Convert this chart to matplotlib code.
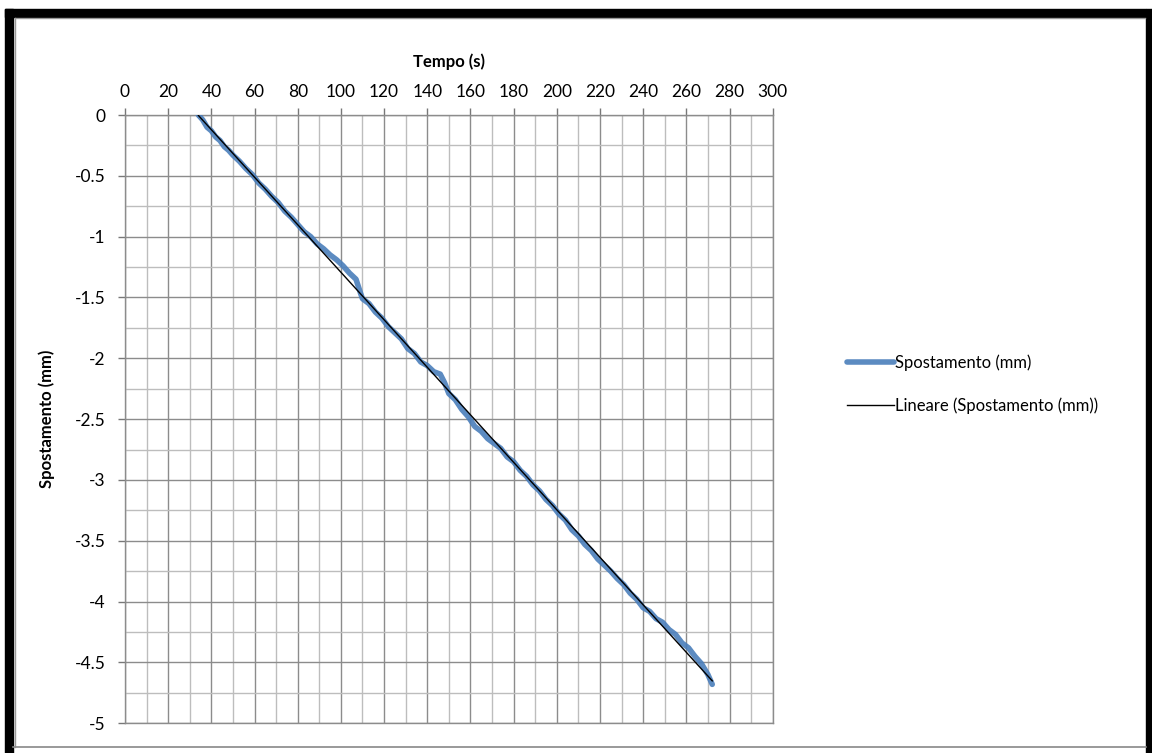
import matplotlib
matplotlib.use('Agg')
import matplotlib.pyplot as plt
from matplotlib.patches import Rectangle
from matplotlib.lines import Line2D
import numpy as np

plt.rcParams['font.family'] = ['Lato', 'DejaVu Sans']

# time (s) and displacement (mm)
tempo = [34, 36, 38, 40, 42, 44, 46, 48, 50, 53, 56, 59, 62, 65, 68, 71, 74, 77,
         80, 83, 86, 89, 92, 95, 98, 101, 104, 107, 109, 110, 113, 116, 119, 122,
         125, 128, 131, 134, 137, 140, 143, 146, 148, 150, 153, 156, 159, 162, 165,
         168, 171, 174, 177, 180, 183, 186, 189, 192, 195, 198, 201, 204, 207, 210,
         213, 216, 219, 222, 225, 228, 231, 234, 237, 240, 243, 246, 249, 252, 255,
         258, 261, 264, 267, 270, 272]
spostamento = [0.00, -0.04, -0.10, -0.13, -0.18, -0.21, -0.26, -0.29, -0.33, -0.38,
               -0.44, -0.49, -0.56, -0.61, -0.67, -0.72, -0.79, -0.84, -0.90, -0.96,
               -1.00, -1.06, -1.10, -1.15, -1.19, -1.24, -1.30, -1.35, -1.46, -1.51,
               -1.55, -1.62, -1.67, -1.74, -1.79, -1.84, -1.92, -1.96, -2.03, -2.06,
               -2.11, -2.13, -2.20, -2.29, -2.34, -2.42, -2.48, -2.56, -2.60, -2.66,
               -2.70, -2.74, -2.81, -2.85, -2.92, -2.97, -3.04, -3.09, -3.16, -3.21,
               -3.28, -3.33, -3.41, -3.46, -3.53, -3.58, -3.65, -3.70, -3.75, -3.81,
               -3.86, -3.93, -3.98, -4.05, -4.08, -4.14, -4.17, -4.23, -4.27, -4.34,
               -4.38, -4.45, -4.51, -4.60, -4.68]

x_ticks = np.arange(0, 301, 20)
y_ticks = np.arange(-5, 0.01, 0.5)

fig = plt.figure(figsize=(11.52, 7.53), dpi=100)
W, H = 1152, 753

# black frame around the sheet
fig.patches.append(Rectangle((5 / W, 0), 8 / W, 1 - 9 / H, transform=fig.transFigure,
                             color='black', zorder=0))
fig.patches.append(Rectangle((5 / W, 1 - 17 / H), (1146 - 5) / W, 8 / H,
                             transform=fig.transFigure, color='black', zorder=0))
fig.patches.append(Rectangle((1146 / W, 0), 6 / W, 1 - 9 / H, transform=fig.transFigure,
                             color='black', zorder=0))
fig.lines.append(Line2D([15 / W, 15 / W], [6 / H, 1 - 18 / H], transform=fig.transFigure,
                        color='#999999', lw=1))
fig.lines.append(Line2D([15 / W, 1145 / W], [1 - 18 / H, 1 - 18 / H], transform=fig.transFigure,
                        color='#999999', lw=1))
fig.lines.append(Line2D([13 / W, 1146 / W], [6 / H, 6 / H], transform=fig.transFigure,
                        color='#888888', lw=1.2))

ax = fig.add_axes([125 / W, 1 - 723.3 / H, (772.7 - 125) / W, (723.3 - 115) / H])

ax.plot(tempo, spostamento, color='#4A7EBB', lw=4, alpha=0.9,
        solid_capstyle='round', label='Spostamento (mm)', zorder=3)

# linear trend
coef = np.polyfit(tempo, spostamento, 1)
t_fit = np.array([tempo[0], tempo[-1]])
ax.plot(t_fit, np.polyval(coef, t_fit), color='black', lw=1,
        label='Lineare (Spostamento (mm))', zorder=4)

ax.set_xlim(0, 300)
ax.set_ylim(-5, 0)
ax.set_xticks(x_ticks)
ax.set_xticks(np.arange(0, 301, 10), minor=True)
ax.set_yticks(y_ticks)
ax.set_yticks(np.arange(-5, 0.01, 0.25), minor=True)
ax.set_yticklabels(['%g' % v for v in y_ticks])

ax.xaxis.tick_top()
ax.xaxis.set_label_position('top')
ax.tick_params(axis='both', which='major', direction='out', length=5, width=1,
               color='#777777', labelsize=12.5, pad=9)
ax.tick_params(axis='both', which='minor', length=0)
ax.tick_params(axis='x', pad=6)

ax.grid(which='major', color='#8c8c8c', lw=1)
ax.grid(which='minor', color='#bdbdbd', lw=1)
ax.set_axisbelow(True)
for s in ax.spines.values():
    s.set_color('#8c8c8c')
    s.set_linewidth(1)

ax.set_xlabel('Tempo (s)', fontweight='bold', fontsize=12, labelpad=12)
ax.set_ylabel('Spostamento (mm)', fontweight='bold', fontsize=12, labelpad=14)

fig.legend(loc='center left', bbox_to_anchor=(832 / W, 1 - 384 / H), frameon=False,
           fontsize=12, handlelength=2.8, handletextpad=0.1, labelspacing=1.6)

fig.savefig('out.png', dpi=100, facecolor='white')
